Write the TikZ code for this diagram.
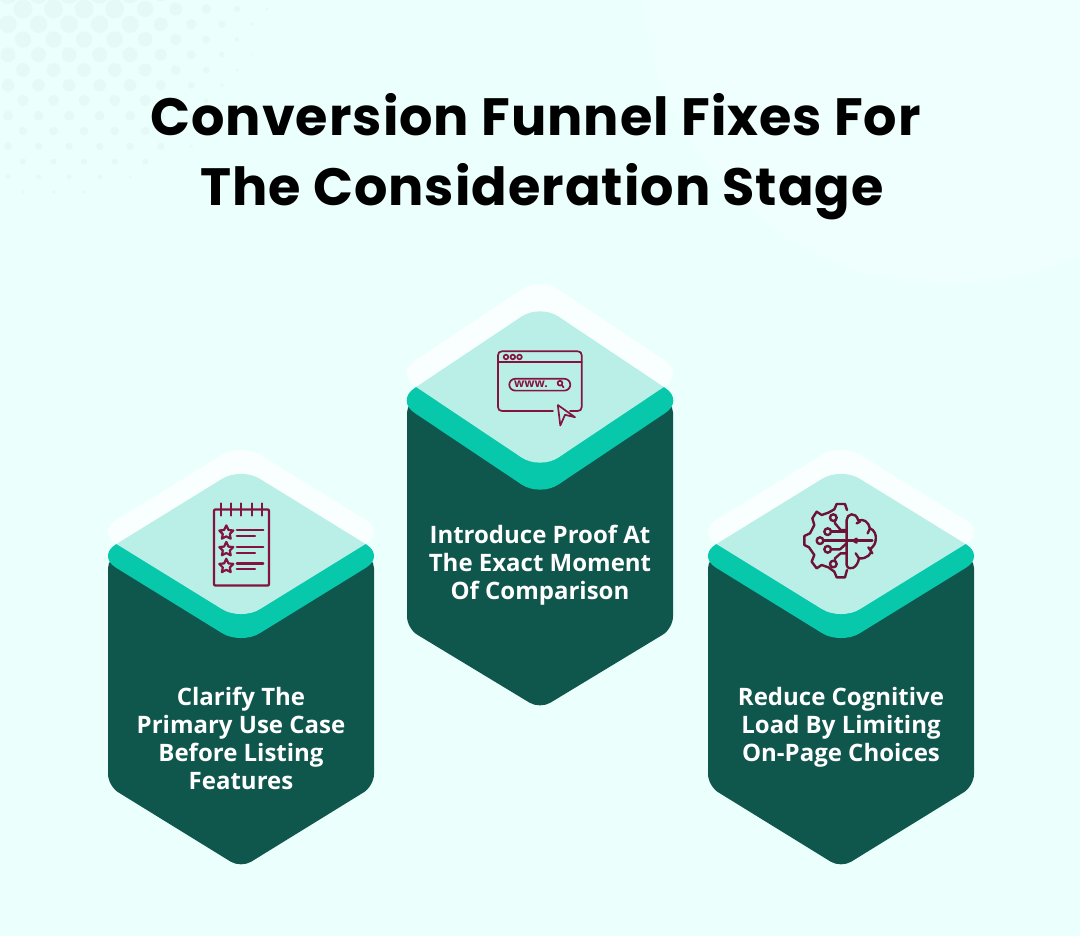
\documentclass[tikz,border=0pt]{standalone}
\usepackage{fontspec}
\setmainfont{Open Sans}
\newfontfamily\titlefont[LetterSpace=1.9]{Poppins}
\definecolor{bgc}{HTML}{EBFFFD}
\definecolor{dotc}{HTML}{E5FAF7}
\definecolor{circc}{HTML}{EEFFFD}
\definecolor{darkg}{HTML}{0F564D}
\definecolor{tealc}{HTML}{07C8AA}
\definecolor{iconc}{HTML}{84143F}
\definecolor{brainc}{HTML}{6E1236}
\tikzset{
  hexbody/.style={fill=darkg,rounded corners=12pt},
  tealdia/.style={fill=tealc,rounded corners=22pt},
  whitedia/.style={fill=white,fill opacity=0.72,rounded corners=22pt},
  lbl/.style={text=white,font=\fontsize{24}{28}\selectfont\bfseries,align=center,anchor=center,inner sep=0pt},
  ttl/.style={text=black,font=\titlefont\fontsize{52.5}{70}\selectfont\bfseries,anchor=base,inner sep=0pt},
  ico/.style={draw=iconc,line width=1.7pt,line cap=round,line join=round},
  icot/.style={draw=iconc,line width=2.2pt,line cap=round,line join=round},
  brn/.style={draw=brainc,line width=2.4pt,line cap=round,line join=round}
}
% centre x, centre y of teal diamond, half height, offset of white diamond, side y, tip y (from centre)
\newcommand{\hexunit}[6]{%
  \begin{scope}[shift={(#1,#2)}]
    \fill[hexbody] (-133,0) -- (133,0) -- (133,#5) -- (0,#6) -- (-133,#5) -- cycle;
    \fill[tealdia] (-144,0) -- (0,-#3) -- (144,0) -- (0,#3) -- cycle;
    \fill[whitedia] (-144,-#4) -- (0,-#3-#4) -- (144,-#4) -- (0,#3-#4) -- cycle;
  \end{scope}}
\newcommand{\onestar}[2]{%
  \draw[icot] (#1,#2-7.2) -- (#1+2.2,#2-2.6) -- (#1+7,#2-2.1) -- (#1+3.5,#2+1.4) -- (#1+4.4,#2+6.1) -- (#1,#2+3.8) -- (#1-4.4,#2+6.1) -- (#1-3.5,#2+1.4) -- (#1-7,#2-2.1) -- (#1-2.2,#2-2.6) -- cycle;}
\begin{document}
\begin{tikzpicture}[x=1pt,y=-1pt]
\useasboundingbox (0,0) rectangle (1080,936);
\fill[bgc] (0,0) rectangle (1080,936);
\fill[circc] (950,-23) circle (308);
% halftone dots
\foreach \row in {-1,...,12}{
  \pgfmathsetmacro{\yy}{9+15.25*\row}
  \pgfmathtruncatemacro{\odd}{mod(\row+2,2)}
  \foreach \col in {0,...,9}{
    \pgfmathsetmacro{\xx}{(\odd==1 ? 8 : 23)+30.55*\col}
    \pgfmathsetmacro{\rr}{min(min(9.8-0.042*\yy,(298-\xx-0.5*\yy)*0.055),(245-\yy-0.46*\xx)*0.2)}
    \pgfmathparse{\rr>0.9 ? 1 : 0}
    \ifnum\pgfmathresult=1
      \fill[dotc] (\xx,\yy) circle (\rr);
    \fi
  }
}
\hexunit{241}{556}{88.8}{24}{230}{312}
\hexunit{540}{400.5}{96.3}{27}{228}{308.5}
\hexunit{841}{556}{88.8}{24}{230}{312}
% title
\node[ttl] (title1) at (535.5,136) {Conversion Funnel Fixes For};
\node[ttl] (title2) at (542,206) {The Consideration Stage};
% labels
\node[lbl] (l1) at (241,738) {Clarify The\\Primary Use Case\\Before Listing\\Features};
\node[lbl] (l2) at (540,565) {Introduce Proof At\\The Exact Moment\\Of Comparison};
\node[lbl] (l3) at (841,727) {Reduce Cognitive\\Load By Limiting\\On-Page Choices};
% notebook icon
\draw[icot,rounded corners=1pt] (214,509.5) rectangle (269,585.5);
\foreach \x in {220.7,230.9,241.2,251.6,262.3}{\draw[icot] (\x,503.5) -- (\x,515.5);}
\onestar{226.3}{532.6}
\onestar{226.3}{549.2}
\onestar{226.3}{566}
\foreach \y in {530.2,546.8,563.4}{\draw[icot] (236.8,\y) -- (263.3,\y);}
\foreach \y in {536,552.8,569.3}{\draw[icot] (236.8,\y) -- (255,\y);}
% browser icon
\draw[ico] (553,411) -- (502,411) .. controls (499.5,411) and (498,409.5) .. (498,407) -- (498,355.3) .. controls (498,352.8) and (499.5,351.3) .. (502,351.3) -- (577.7,351.3) .. controls (580.2,351.3) and (581.7,352.8) .. (581.7,355.3) -- (581.7,407) .. controls (581.7,409.5) and (580.2,411) .. (577.7,411) -- (570,411);
\draw[ico] (498,362.3) -- (581.7,362.3);
\foreach \x in {506,512.8,519.5}{\draw[ico] (\x,357) circle (2.3);}
\draw[ico,rounded corners=5.9pt] (509.3,378.8) rectangle (570.3,390.6);
\node[inner sep=0pt,text=iconc,font=\fontsize{12}{12}\selectfont\bfseries] (www) at (531,384) {www.};
\draw[ico] (560,383.2) circle (2.4);
\draw[ico] (561.9,385.2) -- (563.6,387.4);
\draw[ico] (557.8,405) -- (575,417.2) -- (565,414.8) -- (560.3,425.5) -- cycle;
% brain icon (traced on a 3x grid)
\begin{scope}[shift={(785,490)},x=0.3333pt,y=-0.3333pt]
  \draw[brn] (186,60) -- (180,42) -- (155,42) -- (148,58) -- (130,68) -- (110,75) -- (95,65) -- (82,85) -- (88,105) -- (75,130) -- (58,138) -- (58,165) -- (72,172) -- (88,195) -- (80,215) -- (95,235) -- (110,225) -- (130,232) -- (148,245) -- (155,262) -- (180,262) -- (186,240);
  \draw[brn] (185,225) -- (185,90) .. controls (185,72) and (212,62) .. (220,92) .. controls (235,85) and (250,95) .. (255,115) .. controls (268,120) and (275,135) .. (272,150) .. controls (272,160) and (265,170) .. (258,175) .. controls (264,190) and (245,208) .. (222,205) .. controls (218,235) and (190,245) .. (185,225);
  \draw[brn] (115,152) -- (262,152);
  \draw[brn] (150,91) -- (150,100) -- (167,120) -- (185,120);
  \draw[brn] (138,125) -- (185,125);
  \draw[brn] (138,178) -- (165,178) -- (185,160);
  \draw[brn] (150,213) -- (150,205) -- (167,190) -- (185,190);
  \draw[brn] (215,100) -- (225,95);
  \draw[brn] (248,130) -- (255,115);
  \draw[brn] (250,172) -- (262,190);
  \draw[brn] (212,190) -- (222,205);
  \draw[brn] (205,152) -- (215,146);
  \draw[brn] (205,152) -- (215,158);
  \foreach \p in {(145,83),(128,125),(105,152),(128,178),(145,222)}{\draw[brn] \p circle (10);}
\end{scope}
\end{tikzpicture}
\end{document}
